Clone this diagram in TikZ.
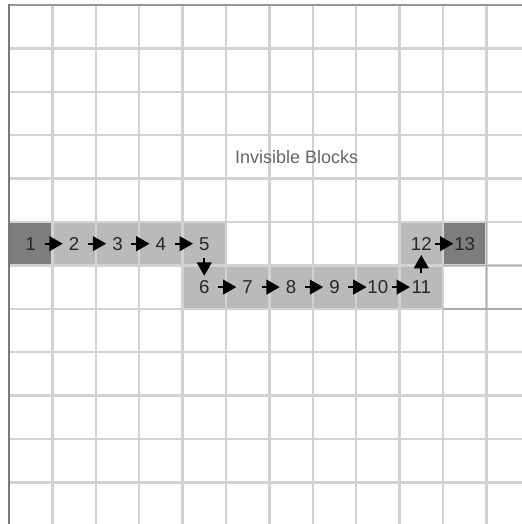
\documentclass[tikz,border=0pt]{standalone}
\usepackage{fontspec}
\setmainfont{Liberation Sans}
\usetikzlibrary{arrows.meta}
\definecolor{gridgray}{HTML}{D2D2D2}
\definecolor{edgegray}{HTML}{ABABAB}
\definecolor{framegray}{HTML}{7A7A7A}
\definecolor{pathcell}{HTML}{BABABA}
\definecolor{endcell}{HTML}{7D7D7D}
\definecolor{labelgray}{HTML}{666666}

\begin{document}
\begin{tikzpicture}[
    x=32.55pt, y=32.55pt,
    block/.style={minimum size=32.55pt, inner sep=0pt, fill=pathcell, text=black!85, font=\fontsize{14}{16}\selectfont},
    endblock/.style={block, fill=endcell},
    grid line/.style={draw=gridgray, line width=1.9pt},
    edge line/.style={draw=edgegray, line width=1.2pt},
    arr/.style={-{Triangle[length=10pt, width=11pt]}, line width=1.6pt, shorten <=10.5pt, shorten >=8.5pt}
]
    \useasboundingbox[fill=white] (-0.207,0.115) rectangle (11.82,-11.959);
    \clip (-0.207,0.115) rectangle (11.82,-11.959);

    % Path blocks
    \node[endblock] (b1) at (0.5,-5.5) {1};
    \node[block] (b2) at (1.5,-5.5) {2};
    \node[block] (b3) at (2.5,-5.5) {3};
    \node[block] (b4) at (3.5,-5.5) {4};
    \node[block] (b5) at (4.5,-5.5) {5};
    \node[block] (b6) at (4.5,-6.5) {6};
    \node[block] (b7) at (5.5,-6.5) {7};
    \node[block] (b8) at (6.5,-6.5) {8};
    \node[block] (b9) at (7.5,-6.5) {9};
    \node[block] (b10) at (8.5,-6.5) {10};
    \node[block] (b11) at (9.5,-6.5) {11};
    \node[block] (b12) at (9.5,-5.5) {12};
    \node[endblock] (b13) at (10.5,-5.5) {13};

    % Grid
    \foreach \i in {1,...,12} {
        \draw[grid line] (\i,0) -- (\i,-12.1);
        \draw[grid line] (0,-\i) -- (12,-\i);
    }
    \draw[edge line] (10,-6) -- (12,-6) (10,-7) -- (12,-7) (11,-5) -- (11,-7);
    \draw[draw=framegray!80, line width=1.5pt] (0,0) -- (12,0);
    \draw[draw=framegray, line width=1.6pt] (0,0.02) -- (0,-12.1);

    \node[text=labelgray, font=\fontsize{13.5}{16}\selectfont] (invis) at (6.63,-3.5) {Invisible Blocks};

    \foreach \a/\b in {b1/b2, b2/b3, b3/b4, b4/b5, b5/b6, b6/b7, b7/b8, b8/b9, b9/b10, b10/b11, b11/b12, b12/b13}
        \draw[arr] (\a.center) -- (\b.center);
\end{tikzpicture}
\end{document}
